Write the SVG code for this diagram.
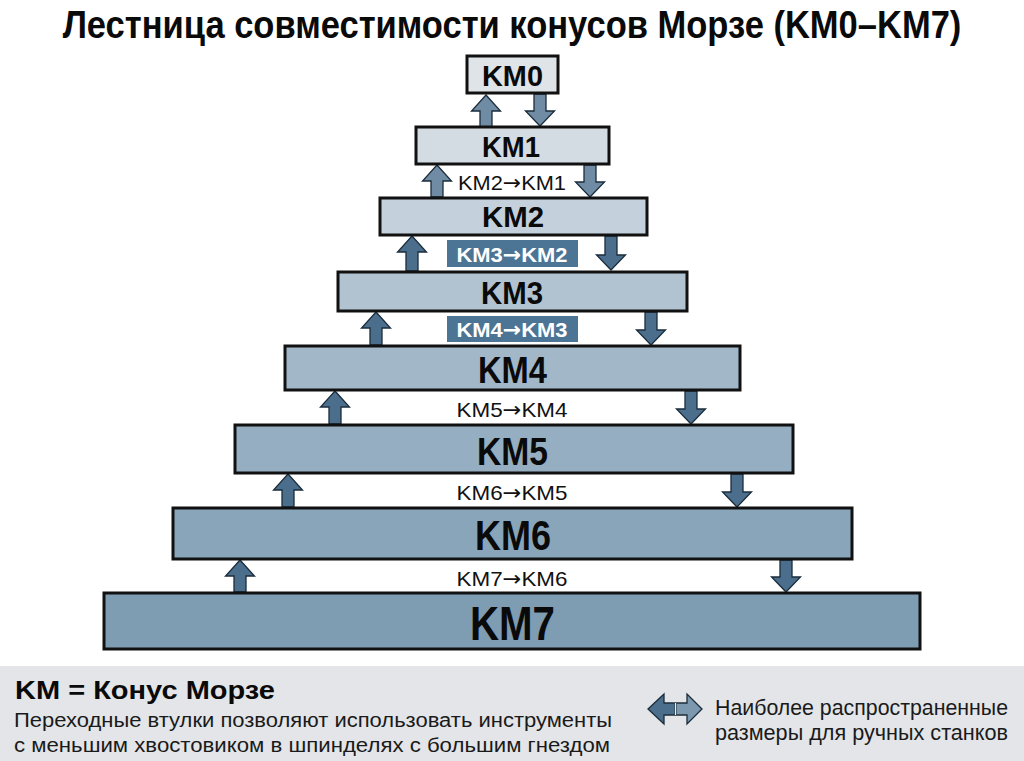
<svg xmlns="http://www.w3.org/2000/svg" width="1024" height="761" viewBox="0 0 1024 761">
<style>
.t{font-family:"Liberation Sans",Arial,sans-serif}
.b{font-weight:bold}
.box{stroke:#111;stroke-width:3}
.lab{font-family:"Liberation Sans",Arial,sans-serif;font-weight:bold;fill:#0a0a0a;text-anchor:middle}
.sm{font-family:"Liberation Sans",Arial,sans-serif;font-size:21px;fill:#111;text-anchor:middle}
.smw{font-family:"Liberation Sans",Arial,sans-serif;font-weight:bold;font-size:21px;fill:#fff;text-anchor:middle}
.ar{font-family:"DejaVu Sans",sans-serif}
.tag{fill:#4c7494}
.arr{fill:#4a6e8c;stroke:#1b2c3b;stroke-width:1.3;stroke-linejoin:miter}
.arrl{fill:#6f8ca4;stroke:#1b2c3b;stroke-width:1.3}
</style>
<rect width="1024" height="761" fill="#ffffff"/>
<g transform="translate(512,38) scale(0.86,1)">
<text class="t b" x="0" y="0" font-size="38" text-anchor="middle" textLength="1045" lengthAdjust="spacingAndGlyphs" fill="#0a0a0a">Лестница совместимости конусов Морзе (KM0–KM7)</text>
</g>

<g id="connectors">
<path class="arrl" d="M486,95 L500.5,111 L492,111 L492,127 L480,127 L480,111 L471.5,111 Z"/>
<path class="arrl" d="M540,126 L554.5,111 L546,111 L546,94 L534,94 L534,111 L525.5,111 Z"/>
<path class="arrl" d="M437,165 L451.5,181 L443,181 L443,197 L431,197 L431,181 L422.5,181 Z"/>
<path class="arrl" d="M590,197 L604.5,182 L596,182 L596,165 L584,165 L584,182 L575.5,182 Z"/>
<path class="arr" d="M412,236 L426.5,252 L418,252 L418,271 L406,271 L406,252 L397.5,252 Z"/>
<path class="arr" d="M611,270 L625.5,255 L617,255 L617,236 L605,236 L605,255 L596.5,255 Z"/>
<path class="arr" d="M376,312 L390.5,328 L382,328 L382,345 L370,345 L370,328 L361.5,328 Z"/>
<path class="arr" d="M651,345 L665.5,330 L657,330 L657,312 L645,312 L645,330 L636.5,330 Z"/>
<path class="arr" d="M335,391 L349.5,407 L341,407 L341,424 L329,424 L329,407 L320.5,407 Z"/>
<path class="arr" d="M691,424 L705.5,409 L697,409 L697,391 L685,391 L685,409 L676.5,409 Z"/>
<path class="arr" d="M288,474 L302.5,490 L294,490 L294,507 L282,507 L282,490 L273.5,490 Z"/>
<path class="arr" d="M737,507 L751.5,492 L743,492 L743,474 L731,474 L731,492 L722.5,492 Z"/>
<path class="arr" d="M240,560 L254.5,576 L246,576 L246,592 L234,592 L234,576 L225.5,576 Z"/>
<path class="arr" d="M786,592 L800.5,577 L792,577 L792,560 L780,560 L780,577 L771.5,577 Z"/>
<text class="sm" x="512" y="190" textLength="108" lengthAdjust="spacingAndGlyphs">KM2<tspan class="ar">→</tspan>KM1</text>
<rect class="tag" x="447" y="240" width="131" height="27"/>
<text class="smw" x="512" y="262" textLength="111" lengthAdjust="spacingAndGlyphs">KM3<tspan class="ar">→</tspan>KM2</text>
<rect class="tag" x="447" y="316" width="131" height="26"/>
<text class="smw" x="512" y="337" textLength="111" lengthAdjust="spacingAndGlyphs">KM4<tspan class="ar">→</tspan>KM3</text>
<text class="sm" x="512" y="417" textLength="111" lengthAdjust="spacingAndGlyphs">KM5<tspan class="ar">→</tspan>KM4</text>
<text class="sm" x="512" y="500" textLength="111" lengthAdjust="spacingAndGlyphs">KM6<tspan class="ar">→</tspan>KM5</text>
<text class="sm" x="512" y="586" textLength="111" lengthAdjust="spacingAndGlyphs">KM7<tspan class="ar">→</tspan>KM6</text>
</g>

<g id="km0"><rect class="box" x="467" y="56" width="91" height="37" fill="#dfe4e8"/>
<text class="lab" x="512.5" y="86" font-size="29" textLength="61" lengthAdjust="spacingAndGlyphs">KM0</text></g>
<g id="km1"><rect class="box" x="416" y="127" width="193" height="37" fill="#d4dce3"/>
<text class="lab" x="511" y="157" font-size="30" textLength="58" lengthAdjust="spacingAndGlyphs">KM1</text></g>
<g id="km2"><rect class="box" x="380" y="198" width="267" height="37" fill="#c4d1dc"/>
<text class="lab" x="513" y="227" font-size="30" textLength="62" lengthAdjust="spacingAndGlyphs">KM2</text></g>
<g id="km3"><rect class="box" x="338" y="272" width="349" height="39" fill="#b1c3d1"/>
<text class="lab" x="512" y="304" font-size="32" textLength="62" lengthAdjust="spacingAndGlyphs">KM3</text></g>
<g id="km4"><rect class="box" x="285" y="346" width="455" height="44" fill="#a2b8c8"/>
<text class="lab" x="512.5" y="383" font-size="36" textLength="69" lengthAdjust="spacingAndGlyphs">KM4</text></g>
<g id="km5"><rect class="box" x="235" y="425" width="558" height="48" fill="#95aec1"/>
<text class="lab" x="512.5" y="465" font-size="39" textLength="71" lengthAdjust="spacingAndGlyphs">KM5</text></g>
<g id="km6"><rect class="box" x="173" y="508" width="679" height="51" fill="#88a5ba"/>
<text class="lab" x="513" y="550" font-size="42" textLength="76" lengthAdjust="spacingAndGlyphs">KM6</text></g>
<g id="km7"><rect class="box" x="104" y="593" width="816" height="56" fill="#7e9cb2"/>
<text class="lab" x="512.5" y="640" font-size="48" textLength="85" lengthAdjust="spacingAndGlyphs">KM7</text></g>

<g id="legend">
<rect x="0" y="666" width="1024" height="95" fill="#e3e5e8"/>
<text class="t b" x="15" y="699" font-size="26" textLength="260" lengthAdjust="spacingAndGlyphs" fill="#0a0a0a">KM = Конус Морзе</text>
<text class="t" x="14" y="727" font-size="20" textLength="598" lengthAdjust="spacingAndGlyphs" fill="#1a1a1a">Переходные втулки позволяют использовать инструменты</text>
<text class="t" x="14" y="752" font-size="20" textLength="596" lengthAdjust="spacingAndGlyphs" fill="#1a1a1a">с меньшим хвостовиком в шпинделях с большим гнездом</text>
<path d="M648,709 L664,694 L664,703 L675,703 L675,715 L664,715 L664,724 Z" fill="#4a6e8c" stroke="#1b2c3b" stroke-width="1.3"/>
<path d="M702,709 L687,694 L687,703 L676,703 L676,715 L687,715 L687,724 Z" fill="#7c98ae" stroke="#1b2c3b" stroke-width="1.3"/>
<line x1="675.5" y1="703" x2="675.5" y2="715" stroke="#e8eef2" stroke-width="1.2"/>
<text class="t" x="715" y="715" font-size="22" textLength="293" lengthAdjust="spacingAndGlyphs" fill="#1a1a1a">Наиболее распространенные</text>
<text class="t" x="715" y="740" font-size="22" textLength="293" lengthAdjust="spacingAndGlyphs" fill="#1a1a1a">размеры для ручных станков</text>
</g>
</svg>
